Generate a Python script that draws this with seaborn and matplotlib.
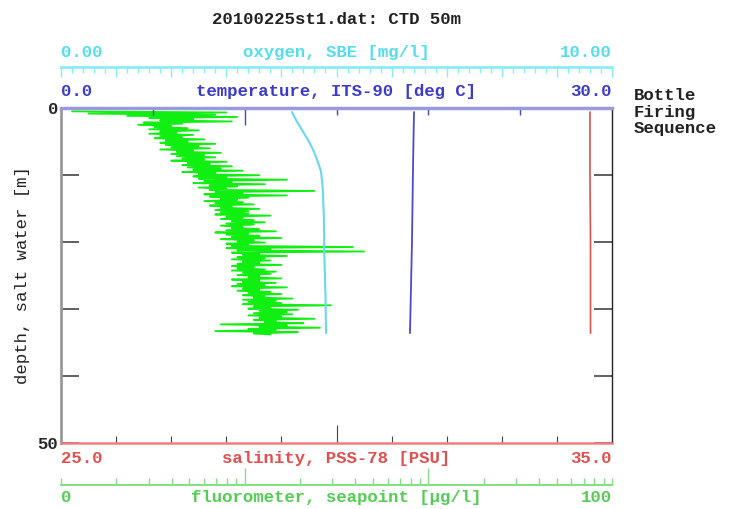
import numpy as np
import seaborn as sns
import matplotlib.pyplot as plt
from matplotlib.transforms import offset_copy

# profiles (depth in m)
sal_depth = [0.6, 10.0, 20.0, 33.6]
salinity = [34.60, 34.60, 34.61, 34.61]

temp_depth = [0.6, 5.0, 10.0, 20.0, 30.0, 33.6]
temperature = [19.22, 19.19, 19.16, 19.11, 19.03, 19.00]

oxy_depth = [0.6, 2.0, 3.5, 5.0, 6.5, 8.0, 9.5, 12.0, 16.0, 22.0, 28.0, 33.6]
oxygen = [4.19, 4.28, 4.39, 4.50, 4.59, 4.66, 4.72, 4.75, 4.77, 4.78, 4.80, 4.81]

# fluorometer trace, 200 scans from 0.5 m down to 33.8 m
fluor = [
    2, 30, 5, 28, 12, 32, 16, 24, 18, 31,
    15, 22, 14, 20, 17, 23, 16, 25, 18, 21,
    16, 24, 18, 22, 17, 26, 19, 23, 18, 28,
    19, 25, 20, 27, 18, 24, 21, 29, 20, 26,
    21, 28, 22, 26, 20, 30, 23, 27, 22, 31,
    23, 29, 24, 33, 22, 28, 25, 36, 24, 30,
    25, 41, 26, 31, 24, 37, 27, 32, 25, 30,
    27, 46, 28, 33, 26, 41, 27, 34, 29, 32,
    26, 33, 28, 35, 27, 31, 29, 36, 28, 34,
    29, 34, 28, 38, 30, 33, 29, 35, 31, 37,
    30, 35, 29, 33, 31, 36, 30, 39, 28, 34,
    30, 36, 31, 40, 29, 35, 32, 37, 30, 34,
    31, 53, 30, 38, 32, 55, 31, 36, 33, 41,
    32, 37, 31, 38, 33, 36, 32, 40, 31, 35,
    32, 37, 31, 39, 33, 38, 32, 36, 34, 40,
    31, 36, 33, 39, 32, 37, 31, 41, 33, 36,
    32, 38, 34, 40, 33, 37, 35, 42, 33, 39,
    34, 40, 33, 49, 35, 38, 34, 43, 36, 41,
    35, 42, 34, 40, 36, 46, 35, 39, 37, 44,
    29, 41, 36, 47, 34, 39, 28, 43, 35, 38,
]
fluor_depth = np.linspace(0.5, 33.8, len(fluor))

sns.set_theme(style="white")
plt.rcParams['font.family'] = ['Liberation Mono', 'DejaVu Sans Mono']
plt.rcParams['font.weight'] = 'bold'
FS = 12.5

fig = plt.figure(figsize=(7.31, 5.09), dpi=100)
ax = fig.add_axes([61/731, 1-443/509, 551/731, 335/509])
ax_f = ax.twiny()   # fluorometer data (linear)
ax_fr = ax.twiny()  # fluorometer ruler (log ticks)
ax_o = ax.twiny()   # oxygen
ax_t = ax.twiny()   # temperature

# data
sns.lineplot(x=fluor, y=fluor_depth, orient='y', sort=False, estimator=None,
             color='#11ee11', lw=1.3, ax=ax_f)
sns.lineplot(x=salinity, y=sal_depth, orient='y', sort=False, estimator=None,
             color='#e05050', lw=1.2, ax=ax)
sns.lineplot(x=oxygen, y=oxy_depth, orient='y', sort=False, estimator=None,
             color='#66d9ee', lw=1.5, ax=ax_o)
sns.lineplot(x=temperature, y=temp_depth, orient='y', sort=False, estimator=None,
             color='#4a4ad0', lw=1.3, ax=ax_t)

ax.set_xlim(25, 35)
ax_t.set_xlim(0, 30)
ax_o.set_xlim(0, 10)
ax_f.set_xlim(0, 100)
ax_fr.set_xscale('log')
ax_fr.set_xlim(0.1, 100)

for a in (ax, ax_f, ax_fr, ax_o, ax_t):
    a.set_xlabel('')
    a.set_ylabel('')
for a in (ax_f, ax_fr, ax_o, ax_t):
    for s in a.spines.values():
        s.set_visible(False)
ax_f.axis('off')

# main axes: depth + salinity
ax.spines['top'].set_visible(False)
ax.spines['left'].set_color('#999999')
ax.spines['left'].set_linewidth(2)
ax.spines['right'].set_color('#222222')
ax.spines['right'].set_linewidth(1)
ax.spines['bottom'].set_color('#f08080')
ax.spines['bottom'].set_linewidth(1.8)
ax.set_yticks(range(0, 51, 10))
ax.set_yticklabels(['0', '', '', '', '', '50'])
ax.set_ylim(50, 0)
ax.tick_params(axis='y', direction='in', length=13, width=1.2, color='#444444',
               left=True, right=True, labelleft=True, labelsize=FS, pad=2)
ax.set_xticks([30])
ax.set_xticks([26, 27, 28, 29, 31, 32, 33, 34], minor=True)
ax.tick_params(axis='x', which='both', direction='in', color='#444444', width=0.8,
               bottom=True, labelbottom=False)
ax.tick_params(axis='x', which='major', length=13)
ax.tick_params(axis='x', which='minor', length=5)
ax.set_ylabel('depth, salt water [m]', fontsize=FS, color='#222222')
ax.yaxis.set_label_coords(-31/551, 0.5)

# temperature on the top spine
ax_t.spines['top'].set_visible(True)
ax_t.spines['top'].set_color('#9999e0')
ax_t.spines['top'].set_linewidth(2.5)
ax_t.set_xticks([10])
ax_t.set_xticks([5, 15, 20, 25], minor=True)
ax_t.tick_params(axis='x', which='both', direction='in', color='#4444cc', width=1,
                 top=True, labeltop=False)
ax_t.tick_params(axis='x', which='major', length=12)
ax_t.tick_params(axis='x', which='minor', length=5)

# oxygen ruler above
ax_o.spines['top'].set_visible(True)
ax_o.spines['top'].set_position(('outward', 29.5))
ax_o.spines['top'].set_color('#88eef5')
ax_o.spines['top'].set_linewidth(2)
ax_o.set_xticks(np.arange(0, 10.01, 1))
ax_o.set_xticks(np.arange(0, 10.01, 0.2), minor=True)
ax_o.tick_params(axis='x', which='both', direction='in', color='#88eef5', width=1,
                 top=True, labeltop=False)
ax_o.tick_params(axis='x', which='major', length=7.5)
ax_o.tick_params(axis='x', which='minor', length=4.5)

# fluorometer ruler below
ax_fr.xaxis.set_ticks_position('bottom')
ax_fr.spines['bottom'].set_visible(True)
ax_fr.spines['bottom'].set_position(('outward', 30))
ax_fr.spines['bottom'].set_color('#88dd88')
ax_fr.spines['bottom'].set_linewidth(1.5)
ax_fr.set_xticks([1, 10])
ax_fr.set_xticks([k * 10.0**e for e in (-1, 0, 1) for k in range(2, 10)] + [0.1, 100], minor=True)
ax_fr.tick_params(axis='x', which='both', direction='in', color='#88dd88', width=1,
                  bottom=True, top=False, labelbottom=False, labeltop=False)
ax_fr.tick_params(axis='x', which='major', length=12)
ax_fr.tick_params(axis='x', which='minor', length=5)

def label_row(y, dy_pt, left, mid, right, color):
    tr = offset_copy(ax.transAxes, fig=fig, y=dy_pt, units='points')
    kw = dict(transform=tr, va='center', fontsize=FS, color=color)
    ax.text(0, y, left, ha='left', **kw)
    ax.text(0.5, y, mid, ha='center', **kw)
    ax.text(1, y, right, ha='right', **kw)

label_row(1, 40, '0.00', 'oxygen, SBE [mg/l]', '10.00', '#55ddee')
label_row(1, 12, '0.0', 'temperature, ITS-90 [deg C]', '30.0', '#3c3cc8')
label_row(0, -11.5, '25.0', 'salinity, PSS-78 [PSU]', '35.0', '#e05050')
label_row(0, -39.5, '0', 'fluorometer, seapoint [\u00b5g/l]', '100', '#55cc55')

fig.text(336/731, 1-20/509, '20100225st1.dat: CTD 50m', ha='center', va='center',
         fontsize=FS, color='#222222')
for i, word in enumerate(['Bottle', 'Firing', 'Sequence']):
    fig.text(634/731, 1-(96+16.5*i)/509, word, ha='left', va='center',
             fontsize=FS, color='#222222')

fig.savefig('out.png', dpi=100)
